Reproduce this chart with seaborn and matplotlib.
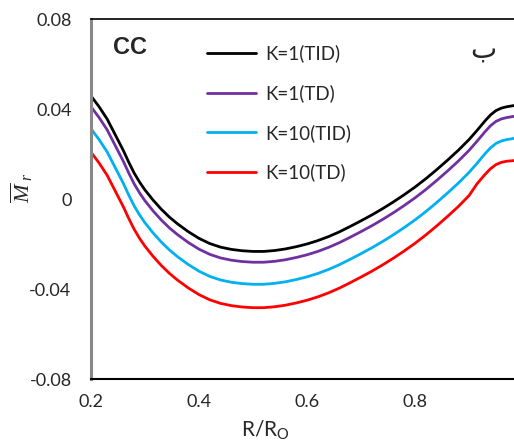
import matplotlib
matplotlib.use("Agg")
import matplotlib.pyplot as plt
import pandas as pd
import seaborn as sns

sns.set_style("white")
plt.rcParams["font.family"] = ["Lato", "DejaVu Sans"]
plt.rcParams["mathtext.fontset"] = "custom"
plt.rcParams["mathtext.rm"] = "Lato"
plt.rcParams["mathtext.it"] = "Liberation Serif:italic"

# values
r_ratio = [0.20, 0.215, 0.23, 0.245, 0.26, 0.27, 0.28, 0.29, 0.30, 0.315, 0.33, 0.345,
           0.36, 0.38, 0.40, 0.42, 0.44, 0.46, 0.48, 0.50, 0.52, 0.54, 0.56, 0.58,
           0.60, 0.62, 0.64, 0.66, 0.68, 0.70, 0.72, 0.74, 0.76, 0.78, 0.80, 0.82,
           0.84, 0.86, 0.88, 0.90, 0.915, 0.93, 0.94, 0.95, 0.96, 0.97, 0.985, 1.00]
k1_tid = [0.0458, 0.0410, 0.0355, 0.0285, 0.0215, 0.0163, 0.0115, 0.0075, 0.0040,
          -0.0005, -0.0045, -0.0080, -0.0110, -0.0145, -0.0175, -0.0198, -0.0214,
          -0.0224, -0.0230, -0.0233, -0.0233, -0.0229, -0.0222, -0.0212, -0.0200,
          -0.0185, -0.0167, -0.0146, -0.0122, -0.0097, -0.0071, -0.0043, -0.0013,
          0.0019, 0.0053, 0.0090, 0.0130, 0.0172, 0.0216, 0.0264, 0.0305, 0.0348,
          0.0374, 0.0393, 0.0404, 0.0410, 0.0416, 0.0420]
k1_td = [0.0410, 0.0362, 0.0307, 0.0237, 0.0167, 0.0115, 0.0067, 0.0027, -0.0008,
         -0.0053, -0.0093, -0.0128, -0.0158, -0.0193, -0.0223, -0.0246, -0.0262,
         -0.0272, -0.0278, -0.0281, -0.0281, -0.0277, -0.0270, -0.0260, -0.0248,
         -0.0233, -0.0215, -0.0194, -0.0170, -0.0145, -0.0119, -0.0091, -0.0061,
         -0.0029, 0.0005, 0.0042, 0.0082, 0.0124, 0.0168, 0.0216, 0.0257, 0.0300,
         0.0326, 0.0345, 0.0356, 0.0362, 0.0368, 0.0372]
k10_tid = [0.0312, 0.0264, 0.0209, 0.0139, 0.0069, 0.0017, -0.0031, -0.0071, -0.0106,
           -0.0151, -0.0191, -0.0226, -0.0256, -0.0291, -0.0321, -0.0344, -0.0360,
           -0.0370, -0.0376, -0.0379, -0.0379, -0.0375, -0.0368, -0.0358, -0.0346,
           -0.0331, -0.0313, -0.0292, -0.0268, -0.0243, -0.0217, -0.0189, -0.0159,
           -0.0127, -0.0093, -0.0056, -0.0016, 0.0026, 0.0070, 0.0118, 0.0159, 0.0202,
           0.0228, 0.0247, 0.0258, 0.0264, 0.0270, 0.0274]
k10_td = [0.0208, 0.0160, 0.0105, 0.0035, -0.0035, -0.0087, -0.0135, -0.0175, -0.0210,
          -0.0255, -0.0295, -0.0330, -0.0360, -0.0395, -0.0425, -0.0448, -0.0464,
          -0.0474, -0.0480, -0.0483, -0.0483, -0.0479, -0.0472, -0.0462, -0.0450,
          -0.0435, -0.0417, -0.0396, -0.0372, -0.0347, -0.0321, -0.0293, -0.0263,
          -0.0231, -0.0197, -0.0160, -0.0120, -0.0078, -0.0034, 0.0015, 0.0068, 0.0110,
          0.0135, 0.0153, 0.0163, 0.0168, 0.0171, 0.0173]

series_names = ["K=1(TID)", "K=1(TD)", "K=10(TID)", "K=10(TD)"]
series_colors = ["#000000", "#7030A0", "#00B0F0", "#FF0000"]
x_ticks = [0.2, 0.4, 0.6, 0.8, 1.0]
x_tick_labels = ["0.2", "0.4", "0.6", "0.8", "1"]
y_ticks = [-0.08, -0.04, 0.0, 0.04, 0.08]
y_tick_labels = ["-0.08", "-0.04", "0", "0.04", "0.08"]

df = pd.concat(
    [
        pd.DataFrame({"R": r_ratio, "M": vals, "series": name})
        for name, vals in zip(series_names, [k1_tid, k1_td, k10_tid, k10_td])
    ],
    ignore_index=True,
)

fig = plt.figure(figsize=(5.14, 4.43), dpi=100)
# plot area runs past the right edge of the picture, as in the reference crop
ax = fig.add_axes([91 / 514, 1 - 379 / 443, 432 / 514, 360 / 443])
sns.lineplot(
    data=df,
    x="R",
    y="M",
    hue="series",
    hue_order=series_names,
    palette=series_colors,
    linewidth=2,
    ax=ax,
)

ax.set_xlim(0.2, 1.0)
ax.set_ylim(-0.08, 0.08)
ax.set_xticks(x_ticks)
ax.set_xticklabels(x_tick_labels)
ax.set_yticks(y_ticks)
ax.set_yticklabels(y_tick_labels)
ax.tick_params(axis="both", length=0, labelsize=13)
ax.tick_params(axis="y", pad=14)
ax.tick_params(axis="x", pad=11)
ax.set_xlabel("")
ax.set_ylabel("")

ax.spines["left"].set_color("#888888")
ax.spines["left"].set_linewidth(2.2)
ax.spines["bottom"].set_color("black")
ax.spines["bottom"].set_linewidth(1.5)
ax.spines["top"].set_color("black")
ax.spines["top"].set_linewidth(1.2)
ax.spines["right"].set_visible(False)

ax.legend(
    loc="upper left",
    bbox_to_anchor=(0.269, 0.929),
    frameon=False,
    fontsize=13.5,
    handlelength=2.6,
    handletextpad=0.5,
    labelspacing=1.16,
    borderpad=0,
    borderaxespad=0,
)

ax.text(22 / 432, 1 - 17 / 360, "CC", transform=ax.transAxes,
        fontsize=17, fontweight="bold", family="Liberation Sans", va="top", ha="left")
fig.text(483 / 514, 1 - 50 / 443, "ب", fontsize=20, family="DejaVu Sans",
         ha="center", va="center")

fig.text(265 / 514, 1 - 436 / 443, r"R/R$_\mathrm{O}$", fontsize=15,
         ha="center", va="baseline")
fig.text(22 / 514, 1 - 188 / 443, r"$\overline{M}_{\ r}$", fontsize=16,
         rotation=90, ha="center", va="center")

fig.savefig("out.png", dpi=100)
